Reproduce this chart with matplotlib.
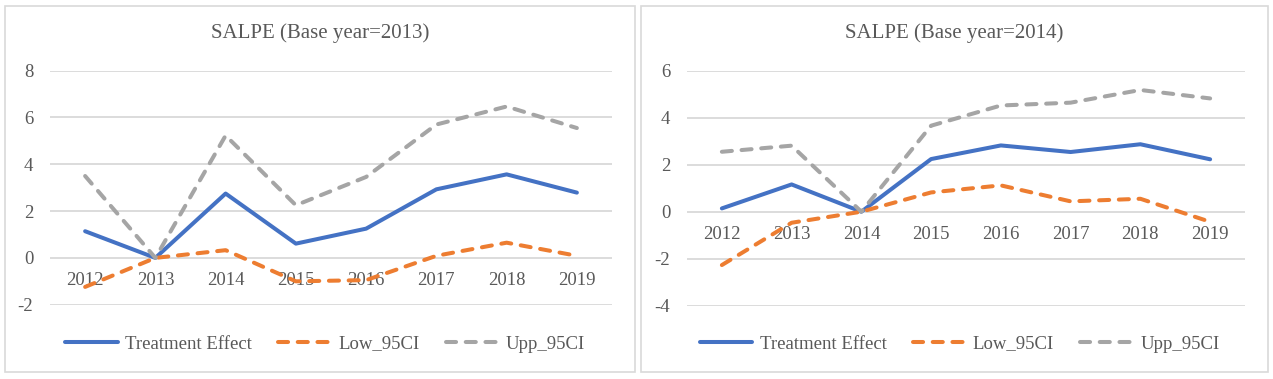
import matplotlib
matplotlib.use('Agg')
import matplotlib.pyplot as plt
from matplotlib.patches import Rectangle

# ---------------- data ----------------
years = ['2012', '2013', '2014', '2015', '2016', '2017', '2018', '2019']

te_2013  = [1.14, 0.0, 2.75, 0.61, 1.25, 2.93, 3.57, 2.79]
low_2013 = [-1.24, 0.0, 0.33, -1.0, -0.95, 0.09, 0.65, 0.09]
upp_2013 = [3.5, 0.0, 5.23, 2.25, 3.46, 5.7, 6.47, 5.55]

te_2014  = [0.14, 1.16, 0.0, 2.24, 2.82, 2.54, 2.87, 2.23]
low_2014 = [-2.27, -0.47, 0.0, 0.82, 1.12, 0.44, 0.55, -0.43]
upp_2014 = [2.55, 2.81, 0.0, 3.66, 4.52, 4.64, 5.18, 4.82]

titles = ['SALPE (Base year=2013)', 'SALPE (Base year=2014)']
ylims = [(-2, 8), (-4, 6)]
series_names = ['Treatment Effect', 'Low_95CI', 'Upp_95CI']

# ---------------- style ----------------
W, H = 1273, 379
c_blue, c_orange, c_grey = '#4472C4', '#ED7D31', '#A5A5A5'
c_text = '#595959'
c_grid = '#D9D9D9'
plt.rcParams['font.family'] = ['Liberation Serif', 'DejaVu Serif']
plt.rcParams['axes.unicode_minus'] = False

fig = plt.figure(figsize=(W/100, H/100), dpi=100)

def fx(px):
    return px / W

def fy(py):
    return 1 - py / H

# panel geometry in pixels: border box, plot box
panels = [
    dict(box=(5, 6, 635, 372), ax=(50, 70.7, 612, 304.7)),
    dict(box=(641, 6, 1268, 372), ax=(687, 70.7, 1245, 305.7)),
]

data = [(te_2013, low_2013, upp_2013), (te_2014, low_2014, upp_2014)]

lw = 2.9
for k, p in enumerate(panels):
    bx0, by0, bx1, by1 = p['box']
    fig.patches.append(Rectangle((fx(bx0), fy(by1)), fx(bx1 - bx0), (by1 - by0)/H,
                                 transform=fig.transFigure, fill=False,
                                 edgecolor=c_grid, lw=1.2))
    ax0, ay0, ax1, ay1 = p['ax']
    ax = fig.add_axes([fx(ax0), fy(ay1), fx(ax1 - ax0), (ay1 - ay0)/H])
    ax.patch.set_alpha(0)
    te, low, upp = data[k]
    x = range(len(years))
    l1, = ax.plot(x, te, color=c_blue, lw=lw, solid_capstyle='round',
                  solid_joinstyle='round', zorder=3)
    l2, = ax.plot(x, low, color=c_orange, lw=lw, dashes=(2.5, 2.4),
                  dash_capstyle='round', dash_joinstyle='round', zorder=3)
    l3, = ax.plot(x, upp, color=c_grey, lw=lw, dashes=(2.5, 2.4),
                  dash_capstyle='round', dash_joinstyle='round', zorder=3)
    ax.set_xlim(-0.5, len(years) - 0.5)
    ax.set_ylim(*ylims[k])
    ax.set_yticks(range(ylims[k][0], ylims[k][1] + 1, 2))
    ax.set_xticks(list(x))
    ax.set_xticklabels(years)
    ax.grid(axis='y', color=c_grid, lw=1.3, zorder=0)
    ax.set_axisbelow(True)
    for s in ['top', 'right', 'left']:
        ax.spines[s].set_visible(False)
    ax.spines['bottom'].set_position(('data', 0))
    ax.spines['bottom'].set_visible(False)
    ax.tick_params(axis='x', length=0, pad=10.5, labelsize=13.5, labelcolor=c_text)
    ax.tick_params(axis='y', length=0, pad=12, labelsize=13.5, labelcolor=c_text)

    cx = (bx0 + bx1) / 2
    fig.text(fx(cx), fy(33), titles[k], ha='center', va='center',
             fontsize=15, color=c_text)
    fig.legend([l1, l2, l3], series_names, loc='center',
               bbox_to_anchor=(fx(cx + 5), fy(344)), ncol=3, frameon=False,
               fontsize=13.5, labelcolor=c_text, handlelength=2.8,
               handletextpad=0.4, columnspacing=1.4)

fig.savefig('out.png', dpi=100)
